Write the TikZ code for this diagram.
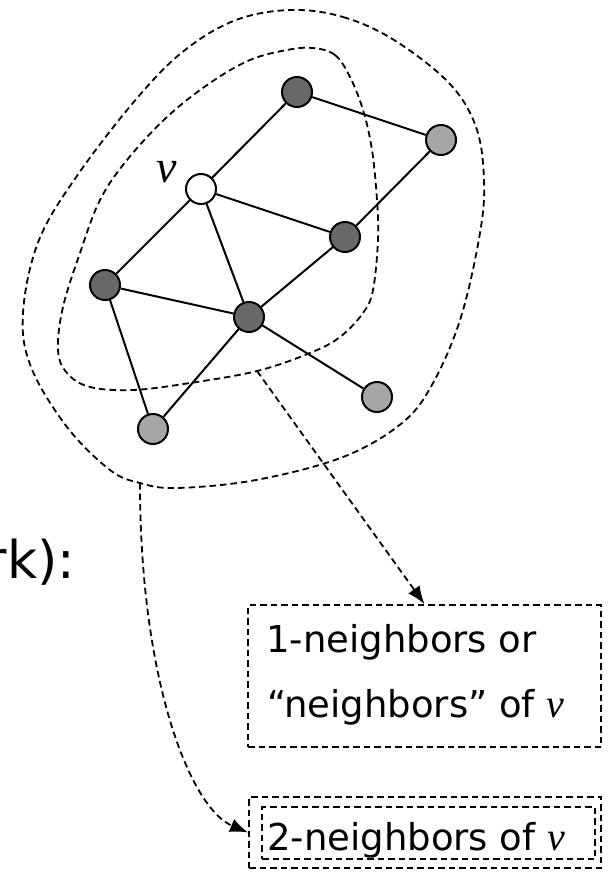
\documentclass[tikz,border=0pt]{standalone}
\usepackage{fontspec}
\setmainfont{DejaVu Sans}
\newfontfamily\timesf{Liberation Serif}
\usetikzlibrary{arrows.meta}
\definecolor{dkgray}{HTML}{686868}
\definecolor{ltgray}{HTML}{A6A6A6}
\begin{document}
\begin{tikzpicture}[x=1bp,y=-1bp,
  vert/.style={circle,draw,line width=2bp,minimum size=30bp,inner sep=0},
  dk/.style={vert,fill=dkgray},
  lt/.style={vert,fill=ltgray},
  wt/.style={vert,fill=white},
  edge/.style={line width=2bp},
  hood/.style={dash pattern=on 6.5bp off 4bp,line width=1.8bp},
  conn/.style={hood,-{Latex[length=18bp,width=14bp]}},
  box/.style={draw,hood,inner sep=0},
  lbl/.style={anchor=base west,inner sep=0,font=\fontsize{37bp}{44bp}\selectfont},
  vit/.style={font=\fontsize{46bp}{50bp}\timesf\itshape,anchor=base,inner sep=0}]
\useasboundingbox (0,0) rectangle (614,872);

% neighbourhood regions
\draw[hood] plot[smooth cycle,tension=0.6] coordinates {
 (291,10) (343,17) (394,40) (449,83) (476,127) (484,180) (480,233) (461,317)
 (433,383) (402,423) (343,457) (256,480) (177,488) (140,483) (110,470) (67,427)
 (31,367) (23,313) (39,240) (79,173) (138,97) (185,50) (236,20)};
\draw[hood] plot[smooth cycle,tension=0.6] coordinates {
 (313,48) (335,55) (350,77) (363,110) (372,150) (377,200) (378,240) (373,290)
 (363,313) (340,337) (310,353) (257,371) (190,383) (133,390) (90,387) (67,373)
 (58,350) (63,307) (80,253) (100,200) (127,160) (167,117) (210,83) (250,60) (287,50)};
\coordinate (s1) at (257,371);
\coordinate (s2) at (140,483);

% vertices
\node[wt] (v) at (201,189) {};
\node[dk] (a) at (297,92) {};
\node[lt] (b) at (441,140) {};
\node[dk] (c) at (345,237) {};
\node[dk] (d) at (105,285) {};
\node[dk] (e) at (249,317) {};
\node[lt] (f) at (153,429) {};
\node[lt] (g) at (377,397) {};
\node[vit] (vl) at (167,182) {v};

% edges
\draw[edge] (v) -- (a);
\draw[edge] (a) -- (b);
\draw[edge] (b) -- (c);
\draw[edge] (v) -- (c);
\draw[edge] (v) -- (d);
\draw[edge] (v) -- (e);
\draw[edge] (d) -- (e);
\draw[edge] (c) -- (e);
\draw[edge] (d) -- (f);
\draw[edge] (e) -- (f);
\draw[edge] (e) -- (g);

% boxes
\node[box,minimum width=353bp,minimum height=142bp] (n1) at (424.5,676) {};
\node[lbl] (t1) at (266,652) {1-neighbors or};
\node[lbl] (t2) at (267,717) {“neighbors” of {\fontsize{40bp}{44bp}\timesf\itshape v}};
\node[box,minimum width=352bp,minimum height=71bp] (n2) at (425,832.5) {};
\node[box,minimum width=333bp,minimum height=52bp] (n2i) at (428.5,833) {};
\node[lbl] (t3) at (267,850) {2-neighbors of {\fontsize{40bp}{44bp}\timesf\itshape v}};

\node[anchor=base west,inner sep=0,font=\fontsize{52bp}{60bp}\selectfont] (nw) at (-14.5,578) {rk):};

% connectors
\draw[conn] (s1) -- (n1.north);
\draw[conn] (s2) .. controls (140,680) and (190,808) .. (n2.west);
\end{tikzpicture}
\end{document}
